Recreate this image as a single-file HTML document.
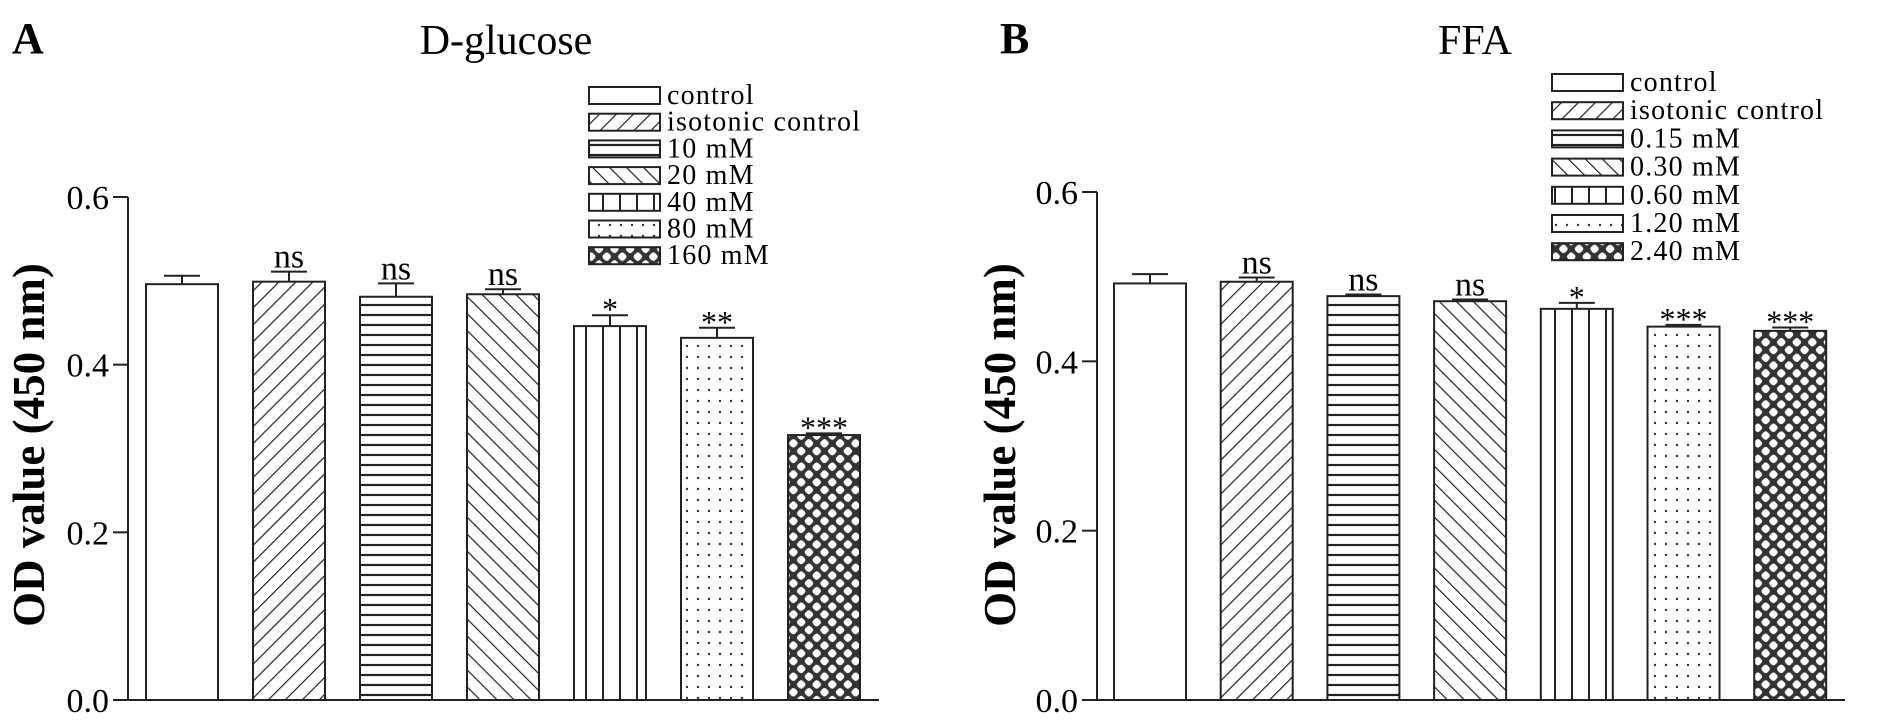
<!DOCTYPE html>
<html><head><meta charset="utf-8"><style>
html,body{margin:0;padding:0;background:#fff;}
svg{display:block;font-family:"Liberation Serif",serif;}
</style></head><body>
<svg id="chart" width="1890" height="726" viewBox="0 0 1890 726" xmlns="http://www.w3.org/2000/svg">
<defs>
<pattern id="p1" patternUnits="userSpaceOnUse" width="12" height="12" patternTransform="rotate(45)"><line x1="0" y1="0" x2="0" y2="12" stroke="#222" stroke-width="2.4"/></pattern>
<pattern id="p2" patternUnits="userSpaceOnUse" width="10" height="10"><line x1="0" y1="5" x2="10" y2="5" stroke="#222" stroke-width="2.2"/></pattern>
<pattern id="p3" patternUnits="userSpaceOnUse" width="12" height="12" patternTransform="rotate(-45)"><line x1="0" y1="0" x2="0" y2="12" stroke="#222" stroke-width="2.4"/></pattern>
<pattern id="p4" patternUnits="userSpaceOnUse" width="17" height="10"><line x1="8" y1="0" x2="8" y2="10" stroke="#222" stroke-width="2"/></pattern>
<pattern id="p5" patternUnits="userSpaceOnUse" width="11" height="11"><circle cx="5" cy="5" r="1.2" fill="#333"/></pattern>
<pattern id="p6" patternUnits="userSpaceOnUse" width="11" height="11" patternTransform="rotate(45)"><rect width="11" height="11" fill="#333"/><rect x="1.8" y="1.8" width="7.4" height="7.4" rx="2.5" fill="#fff"/></pattern>
</defs>
<g id="panels"></g>
</svg>
<script>
const categoriesA = ["control","isotonic control","10 mM","20 mM","40 mM","80 mM","160 mM"];
const valuesA = [0.496,0.499,0.481,0.484,0.446,0.432,0.316];
const errorsA = [0.010,0.012,0.016,0.006,0.013,0.012,0.002];
const sigA = ["","ns","ns","ns","*","**","***"];
const categoriesB = ["control","isotonic control","0.15 mM","0.30 mM","0.60 mM","1.20 mM","2.40 mM"];
const valuesB = [0.492,0.494,0.477,0.471,0.462,0.441,0.436];
const errorsB = [0.011,0.005,0.002,0.002,0.007,0.002,0.004];
const sigB = ["","ns","ns","ns","*","***","***"];
const yTicks = [0.0,0.2,0.4,0.6];
const yTickLabels = ["0.0","0.2","0.4","0.6"];

const NS="http://www.w3.org/2000/svg";
const root=document.getElementById('panels');
function mk(tag,attrs,parent,text){const e=document.createElementNS(NS,tag);for(const k in attrs)e.setAttribute(k,attrs[k]);if(text!==undefined)e.textContent=text;parent.appendChild(e);return e;}

function panel(cfg){
  const g=mk('g',{},root);
  
  
  const y0=700, yTop=cfg.yTop;
  const yScale=v=>y0-(v/0.6)*(y0-yTop);
  const xc=i=>cfg.firstC+i*cfg.step;
  const bw=72;
  const lab=mk('text',{x:cfg.letterX,y:53,'font-size':44,'font-weight':'bold'},g,cfg.letter);
  
  
  const t=mk('text',{x:cfg.titleX,y:54,'font-size':42,'text-anchor':'middle'},g,cfg.title);
  
  
  const yt=mk('text',{transform:`translate(${cfg.ytX},445) rotate(-90)`,'font-size':45,'font-weight':'bold','text-anchor':'middle'},g,'OD value (450 nm)');
  
  
  const ax=mk('line',{x1:cfg.axisX,y1:yTop,x2:cfg.axisX,y2:y0,stroke:'#222','stroke-width':2},g);
  
  
  const xa=mk('line',{x1:cfg.axisX,y1:y0,x2:cfg.axisEnd,y2:y0,stroke:'#222','stroke-width':2},g);
  
  
  yTicks.forEach((v,i)=>{
    mk('line',{x1:cfg.axisX-15,y1:yScale(v),x2:cfg.axisX,y2:yScale(v),stroke:'#222','stroke-width':2},g);
    const tl=mk('text',{x:cfg.axisX-19,y:yScale(v)+12,'font-size':34,'text-anchor':'end'},g,yTickLabels[i]);
    
    
  });
  cfg.values.forEach((v,i)=>{
    const x=xc(i)-bw/2, y=yScale(v);
    const r=mk('rect',{x:x,y:y,width:bw,height:y0-y,fill:i===0?'#fff':`url(#p${i})`,stroke:'#222','stroke-width':2},g);
    
    
    const ye=yScale(v+cfg.errors[i]);
    mk('line',{x1:xc(i),y1:y,x2:xc(i),y2:ye,stroke:'#222','stroke-width':2},g);
    mk('line',{x1:xc(i)-18,y1:ye,x2:xc(i)+18,y2:ye,stroke:'#222','stroke-width':2},g);
    if(cfg.sig[i]){
      const isNs=cfg.sig[i]==='ns';
      const s=mk('text',{x:xc(i),y:ye-(isNs?4:-5),'font-size':isNs?34:32,'text-anchor':'middle'},g,cfg.sig[i]);
      
      
    }
  });
  cfg.cats.forEach((c,i)=>{
    const yy=cfg.legY+i*cfg.legStep;
    const lr=mk('rect',{x:cfg.legX,y:yy-8,width:71,height:17,fill:i===0?'#fff':`url(#p${i})`,stroke:'#222','stroke-width':2},g);
    
    
    const lt=mk('text',{x:cfg.legX+78,y:yy+9,'font-size':28,'letter-spacing':'1.2'},g,c);
    
    
  });
}
panel({id:'a',letter:'A',letterX:12,title:'D-glucose',titleX:506,axisX:128,axisEnd:879,yTop:197,ytX:44,firstC:182,step:107,values:valuesA,errors:errorsA,sig:sigA,cats:categoriesA,legX:589,legY:95,legStep:26.7});
panel({id:'b',letter:'B',letterX:1000,title:'FFA',titleX:1475,axisX:1097,axisEnd:1845,yTop:192,ytX:1015,firstC:1150,step:106.7,values:valuesB,errors:errorsB,sig:sigB,cats:categoriesB,legX:1552,legY:82,legStep:28.2});
</script>
</body></html>
